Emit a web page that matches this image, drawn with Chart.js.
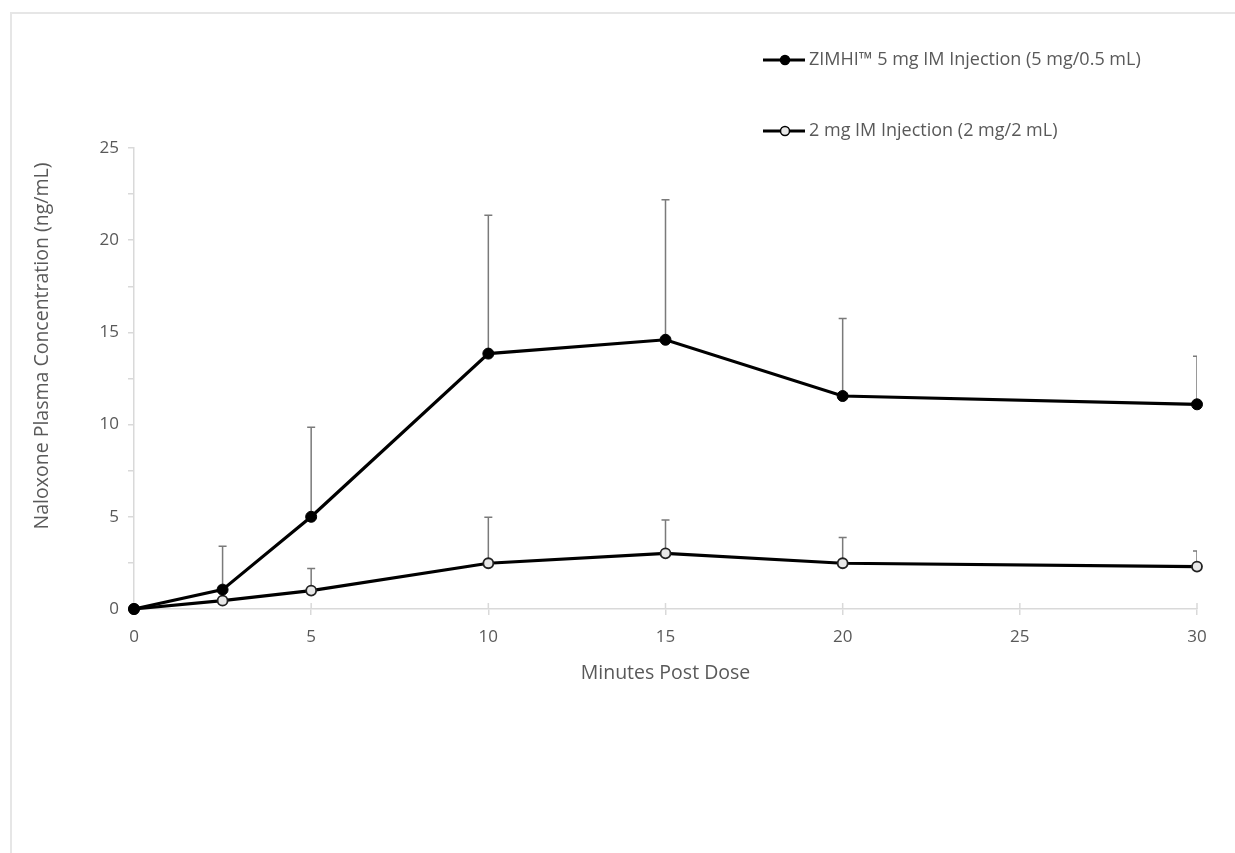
<!DOCTYPE html>
<html>
<head>
<meta charset="utf-8">
<script src="https://cdn.jsdelivr.net/npm/chart.js@4/dist/chart.umd.min.js"></script>
<style>
    html, body { margin: 0; padding: 0; background: #fff; }
    #wrap { position: relative; width: 1235px; height: 853px; }
    #frame { position: absolute; left: 10px; top: 12px; right: -5px; bottom: -5px;
             border-left: 2px solid #e6e6e6; border-top: 2px solid #e6e6e6; }
</style>
</head>
<body>
<div id="wrap">
    <div id="frame"></div>
    <canvas id="pkChart"></canvas>
</div>
<script>
// Minutes post dose
const minutes = [0, 2.5, 5, 10, 15, 20, 30];

// ZIMHI 5 mg IM: mean and upper SD
const zimhiMean = [0, 1.05, 5.0, 13.85, 14.6, 11.55, 11.1];
const zimhiSD   = [0, 2.35, 4.85, 7.5, 7.6, 4.2, 2.6];

// 2 mg IM: mean and upper SD
const twoMgMean = [0, 0.45, 1.0, 2.48, 3.02, 2.48, 2.3];
const twoMgSD   = [0, 0.8, 1.2, 2.5, 1.8, 1.4, 0.85];

const seriesLabels = [
    'ZIMHI\u2122 5 mg IM Injection (5 mg/0.5 mL)',
    '2 mg IM Injection (2 mg/2 mL)'
];
const xTitle = 'Minutes Post Dose';
const yTitle = 'Naloxone Plasma Concentration (ng/mL)';

const axisGray = '#d9d9d9';
const textGray = '#595959';
const FONT = "'Open Sans', sans-serif";

function toPoints(xs, ys) {
    return xs.map((x, i) => ({ x: x, y: ys[i] }));
}

// upper-only error bars, drawn through the scales
const errorBars = {
    id: 'errorBars',
    beforeDatasetsDraw(chart) {
        const { ctx, chartArea, scales: { x, y } } = chart;
        ctx.save();
        ctx.beginPath();
        ctx.rect(chartArea.left, chartArea.top - 20, chartArea.width, chartArea.height + 20);
        ctx.clip();
        ctx.strokeStyle = '#7a7a7a';
        ctx.lineWidth = 1.5;
        chart.data.datasets.forEach(ds => {
            ds.data.forEach((p, i) => {
                const sd = ds.errors[i];
                if (!sd) return;
                const px = x.getPixelForValue(p.x);
                const py = y.getPixelForValue(p.y);
                const top = y.getPixelForValue(p.y + sd);
                ctx.beginPath();
                ctx.moveTo(px, py);
                ctx.lineTo(px, top);
                ctx.moveTo(px - 4, top);
                ctx.lineTo(px + 4, top);
                ctx.stroke();
            });
        });
        ctx.restore();
    }
};

// x ticks cross the axis line; add the part above it
const crossTicks = {
    id: 'crossTicks',
    beforeDatasetsDraw(chart) {
        const { ctx, chartArea, scales: { x } } = chart;
        ctx.save();
        ctx.strokeStyle = axisGray;
        ctx.lineWidth = 1.5;
        x.ticks.forEach(t => {
            const px = x.getPixelForValue(t.value);
            ctx.beginPath();
            ctx.moveTo(px, chartArea.bottom);
            ctx.lineTo(px, chartArea.bottom - 6);
            ctx.stroke();
        });
        ctx.restore();
    }
};

// y title and legend drawn by hand to sit where the original has them
const sideText = {
    id: 'sideText',
    afterDraw(chart) {
        const ctx = chart.ctx;
        ctx.save();
        ctx.fillStyle = textGray;
        ctx.font = '19.5px ' + FONT;
        ctx.textAlign = 'center';
        ctx.textBaseline = 'middle';
        ctx.translate(42, 346);
        ctx.rotate(-Math.PI / 2);
        ctx.fillText(yTitle, 0, 0);
        ctx.restore();

        const rows = [60, 131];
        ctx.save();
        chart.data.datasets.forEach((ds, i) => {
            const yy = rows[i];
            ctx.strokeStyle = '#000';
            ctx.lineWidth = 3;
            ctx.beginPath();
            ctx.moveTo(763, yy);
            ctx.lineTo(805, yy);
            ctx.stroke();
            ctx.beginPath();
            ctx.arc(785, yy, 4.5, 0, Math.PI * 2);
            ctx.fillStyle = ds.pointBackgroundColor;
            ctx.fill();
            ctx.lineWidth = 1.5;
            ctx.stroke();
            ctx.fillStyle = textGray;
            ctx.font = '18px ' + FONT;
            ctx.textBaseline = 'middle';
            ctx.fillText(ds.label, 809, yy);
        });
        ctx.restore();
    }
};

const ctx1 = document.getElementById('pkChart').getContext('2d');
const pkChart = new Chart(ctx1, {
    type: 'line',
    data: {
        datasets: [{
            label: seriesLabels[0],
            data: toPoints(minutes, zimhiMean),
            errors: zimhiSD,
            borderColor: '#000',
            borderWidth: 3.2,
            pointRadius: 5.5,
            pointBackgroundColor: '#000',
            pointBorderColor: '#000',
            pointBorderWidth: 1,
            tension: 0,
            clip: false
        },
        {
            label: seriesLabels[1],
            data: toPoints(minutes, twoMgMean),
            errors: twoMgSD,
            borderColor: '#000',
            borderWidth: 3.2,
            pointRadius: 5,
            pointBackgroundColor: '#e8e8e8',
            pointBorderColor: '#222',
            pointBorderWidth: 1.8,
            tension: 0,
            clip: false
        }]
    },
    options: {
        responsive: true,
        maintainAspectRatio: false,
        animation: false,
        layout: {
            padding: { left: 10, top: 148, right: 38, bottom: 164 }
        },
        scales: {
            x: {
                type: 'linear',
                min: 0,
                max: 30,
                afterFit: scale => { scale.height = 80; },
                border: { color: axisGray, width: 1.5 },
                grid: { drawOnChartArea: false, color: axisGray, tickLength: 6, lineWidth: 1.5 },
                ticks: { stepSize: 5, color: textGray, font: { family: FONT, size: 17 }, padding: 12 },
                title: {
                    display: true,
                    text: xTitle,
                    color: textGray,
                    font: { family: FONT, size: 19.5 },
                    padding: { top: 4 }
                }
            },
            y: {
                min: 0,
                max: 25,
                afterFit: scale => { scale.width = 124; },
                border: { color: axisGray, width: 1.5 },
                grid: { drawOnChartArea: false, color: axisGray, tickLength: 6, lineWidth: 1.5 },
                ticks: {
                    stepSize: 2.5,
                    color: textGray,
                    font: { family: FONT, size: 17 },
                    padding: 9,
                    callback: v => (v % 5 === 0 ? v : '')
                }
            }
        },
        plugins: {
            legend: { display: false },
            tooltip: { enabled: false }
        }
    },
    plugins: [errorBars, crossTicks, sideText]
});
</script>
</body>
</html>
